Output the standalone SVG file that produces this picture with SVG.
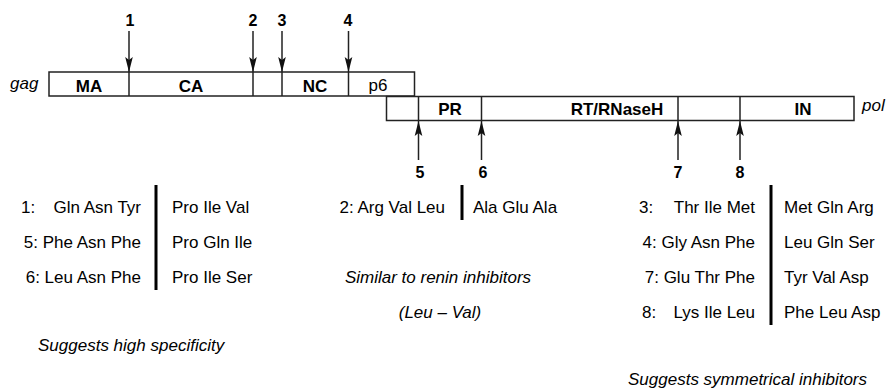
<svg xmlns="http://www.w3.org/2000/svg" width="889" height="390" viewBox="0 0 889 390">
  <style>
    .box { fill: #fff; stroke: #222; stroke-width: 1.5; }
    .div { stroke: #222; stroke-width: 1.5; }
    .lbl { font-family: "Liberation Sans", Arial, sans-serif; font-size: 17px; font-weight: bold; fill: #000; text-anchor: middle; }
    .lblr { font-family: "Liberation Sans", Arial, sans-serif; font-size: 17px; fill: #000; text-anchor: middle; }
    .gene { font-family: "Liberation Sans", Arial, sans-serif; font-size: 17px; font-style: italic; fill: #000; }
    .num { font-family: "Liberation Sans", Arial, sans-serif; font-size: 16px; font-weight: bold; fill: #000; text-anchor: middle; }
    .seq { font-family: "Liberation Sans", Arial, sans-serif; font-size: 17px; fill: #000; }
    .end { text-anchor: end; }
    .mid { text-anchor: middle; }
    .note { font-family: "Liberation Sans", Arial, sans-serif; font-size: 17px; font-style: italic; fill: #000; }
    .bar { fill: #000; }
    .arrow { stroke: #222; stroke-width: 1.5; fill: none; marker-end: url(#head); }
  </style>
  <defs>
    <marker id="head" markerUnits="userSpaceOnUse" markerWidth="16" markerHeight="10" viewBox="0 0 16 10" refX="15" refY="5" orient="auto">
      <path d="M0,1.2 L15,5 L0,8.8 L3,5 Z" fill="#111"/>
    </marker>
  </defs>

  <!-- gag polyprotein -->
  <g id="gag">
    <text class="gene" x="10" y="89">gag</text>
    <rect class="box" x="49" y="72" width="365.5" height="24"/>
    <line class="div" x1="129" y1="72" x2="129" y2="96"/>
    <line class="div" x1="253" y1="72" x2="253" y2="96"/>
    <line class="div" x1="282" y1="72" x2="282" y2="96"/>
    <line class="div" x1="348.5" y1="72" x2="348.5" y2="96"/>
    <text class="lbl" x="89" y="92">MA</text>
    <text class="lbl" x="191" y="92">CA</text>
    <text class="lbl" x="315" y="92">NC</text>
    <text class="lblr" x="378" y="91">p6</text>
  </g>

  <!-- pol polyprotein -->
  <g id="pol">
    <rect class="box" x="386.5" y="96.5" width="467.5" height="24"/>
    <line class="div" x1="418.5" y1="96.5" x2="418.5" y2="120.5"/>
    <line class="div" x1="481.5" y1="96.5" x2="481.5" y2="120.5"/>
    <line class="div" x1="678" y1="96.5" x2="678" y2="120.5"/>
    <line class="div" x1="740" y1="96.5" x2="740" y2="120.5"/>
    <text class="lbl" x="450" y="114.5">PR</text>
    <text class="lbl" x="617" y="114.5">RT/RNaseH</text>
    <text class="lbl" x="803" y="114.5">IN</text>
    <text class="gene" x="862" y="111">pol</text>
  </g>

  <!-- cleavage site arrows -->
  <g id="connectors">
    <line class="arrow" x1="129" y1="31" x2="129" y2="72"/>
    <line class="arrow" x1="253" y1="31" x2="253" y2="72"/>
    <line class="arrow" x1="282" y1="31" x2="282" y2="72"/>
    <line class="arrow" x1="348.5" y1="31" x2="348.5" y2="72"/>
    <line class="arrow" x1="418.5" y1="160" x2="418.5" y2="121"/>
    <line class="arrow" x1="481.5" y1="160" x2="481.5" y2="121"/>
    <line class="arrow" x1="678" y1="160" x2="678" y2="121"/>
    <line class="arrow" x1="740" y1="160" x2="740" y2="121"/>
  </g>

  <!-- cleavage site numbers -->
  <g id="site-labels">
    <text class="num" x="130" y="26">1</text>
    <text class="num" x="253" y="26">2</text>
    <text class="num" x="282" y="26">3</text>
    <text class="num" x="348" y="26">4</text>
    <text class="num" x="420" y="178">5</text>
    <text class="num" x="483" y="178">6</text>
    <text class="num" x="678" y="178">7</text>
    <text class="num" x="740" y="178">8</text>
  </g>

  <!-- sites 1, 5, 6 -->
  <g id="table-left">
    <text class="seq" x="21" y="213">1:</text>
    <text class="seq end" x="141" y="213">Gln Asn Tyr</text>
    <text class="seq end" x="141" y="248">5: Phe Asn Phe</text>
    <text class="seq end" x="141" y="283">6: Leu Asn Phe</text>
    <rect class="bar" x="154.5" y="185" width="3" height="105"/>
    <text class="seq" x="172" y="213">Pro Ile Val</text>
    <text class="seq" x="172" y="248">Pro Gln Ile</text>
    <text class="seq" x="172" y="283">Pro Ile Ser</text>
    <text class="note" x="38" y="351">Suggests high specificity</text>
  </g>

  <!-- site 2 -->
  <g id="table-middle">
    <text class="seq end" x="445" y="213">2: Arg Val Leu</text>
    <rect class="bar" x="460.5" y="185" width="3" height="35"/>
    <text class="seq" x="473" y="213">Ala Glu Ala</text>
    <text class="note mid" x="438" y="283">Similar to renin inhibitors</text>
    <text class="note mid" x="440" y="318">(Leu – Val)</text>
  </g>

  <!-- sites 3, 4, 7, 8 -->
  <g id="table-right">
    <text class="seq" x="639" y="213">3:</text>
    <text class="seq end" x="755" y="213">Thr Ile Met</text>
    <text class="seq end" x="755" y="248">4: Gly Asn Phe</text>
    <text class="seq end" x="755" y="283">7: Glu Thr Phe</text>
    <text class="seq" x="642" y="318">8:</text>
    <text class="seq end" x="755" y="318">Lys Ile Leu</text>
    <rect class="bar" x="769.5" y="185" width="3" height="140"/>
    <text class="seq" x="784" y="213">Met Gln Arg</text>
    <text class="seq" x="784" y="248">Leu Gln Ser</text>
    <text class="seq" x="784" y="283">Tyr Val Asp</text>
    <text class="seq" x="784" y="318">Phe Leu Asp</text>
    <text class="note" x="628" y="385">Suggests symmetrical inhibitors</text>
  </g>
</svg>
